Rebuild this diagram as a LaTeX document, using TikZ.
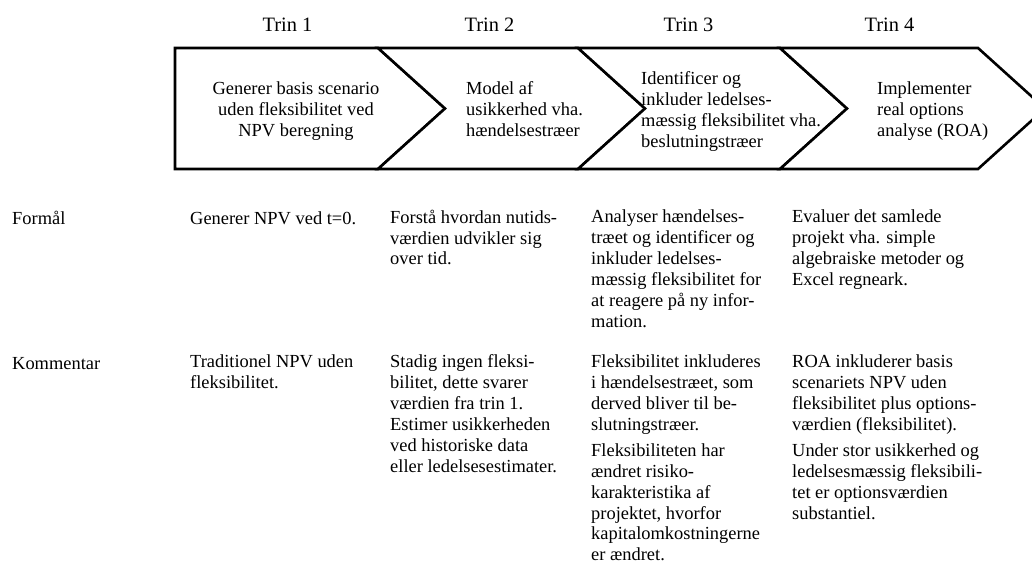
\documentclass[tikz,border=0pt]{standalone}
\usepackage{fontspec}
\setmainfont{Liberation Serif}
\begin{document}
\begin{tikzpicture}[x=1bp,y=-1bp,
  chev/.style={draw=black,line width=2.6bp,fill=white,line join=miter},
  body/.style={font=\fontsize{18.5}{21}\selectfont,inner sep=0pt,anchor=north west,align=left,execute at begin node=\strut},
  head/.style={font=\fontsize{20.5}{24}\selectfont,inner sep=0pt,anchor=base},
]
\clip (0,0) rectangle (1032,567);

% process chevrons
\draw[chev] (175,48) -- (378,48) -- (445,108.5) -- (378,169) -- (175,169) -- cycle;
\draw[chev] (378,48) -- (578,48) -- (645,108.5) -- (578,169) -- (378,169) -- (445,108.5) -- cycle;
\draw[chev] (578,48) -- (780,48) -- (847,108.5) -- (780,169) -- (578,169) -- (645,108.5) -- cycle;
\draw[chev] (780,48) -- (978,48) -- (1045,108.5) -- (978,169) -- (780,169) -- (847,108.5) -- cycle;

% step headings
\node[head] (t1) at (287.5,32) {Trin 1};
\node[head] (t2) at (489.5,32) {Trin 2};
\node[head] (t3) at (688.5,32) {Trin 3};
\node[head] (t4) at (889.5,32) {Trin 4};

% chevron texts
\node[body,anchor=north,align=center] (s1) at (296,81.6) {Generer basis scenario\\uden fleksibilitet ved\\NPV beregning};
\node[body] (s2) at (466,81.6) {Model af\\usikkerhed vha.\\hændelsestræer};
\node[body] (s3) at (641,71.6) {Identificer og\\inkluder ledelses-\\mæssig fleksibilitet vha.\\beslutningstræer};
\node[body] (s4) at (877,81.6) {Implementer\\real options\\analyse (ROA)};

% purpose row
\node[body] (fl) at (12,209.6) {Formål};
\node[body] (f1) at (190,209.6) {Generer NPV ved t=0.};
\node[body] (f2) at (390,209.6) {Forstå hvordan nutids-\\værdien udvikler sig\\over tid.};
\node[body] (f3) at (591,209.6) {Analyser hændelses-\\træet og identificer og\\inkluder ledelses-\\mæssig fleksibilitet for\\at reagere på ny infor-\\mation.};
\node[body] (f4) at (792,209.6) {Evaluer det samlede\\projekt vha. simple\\algebraiske metoder og\\Excel regneark.};

% comment row
\node[body] (kl) at (12,354.6) {Kommentar};
\node[body] (k1) at (190,354.6) {Traditionel NPV uden\\fleksibilitet.};
\node[body] (k2) at (390,354.6) {Stadig ingen fleksi-\\bilitet, dette svarer\\værdien fra trin 1.\\Estimer usikkerheden\\ved historiske data\\eller ledelsesestimater.};
\node[body] (k3) at (591,354.6) {Fleksibilitet inkluderes\\i hændelsestræet, som\\derved bliver til be-\\slutningstræer.\\[5pt]Fleksibiliteten har\\ændret risiko-\\karakteristika af\\projektet, hvorfor\\kapitalomkostningerne\\er ændret.};
\node[body] (k4) at (792,354.6) {ROA inkluderer basis\\scenariets NPV uden\\fleksibilitet plus options-\\værdien (fleksibilitet).\\[5pt]Under stor usikkerhed og\\ledelsesmæssig fleksibili-\\tet er optionsværdien\\substantiel.};
\end{tikzpicture}
\end{document}
